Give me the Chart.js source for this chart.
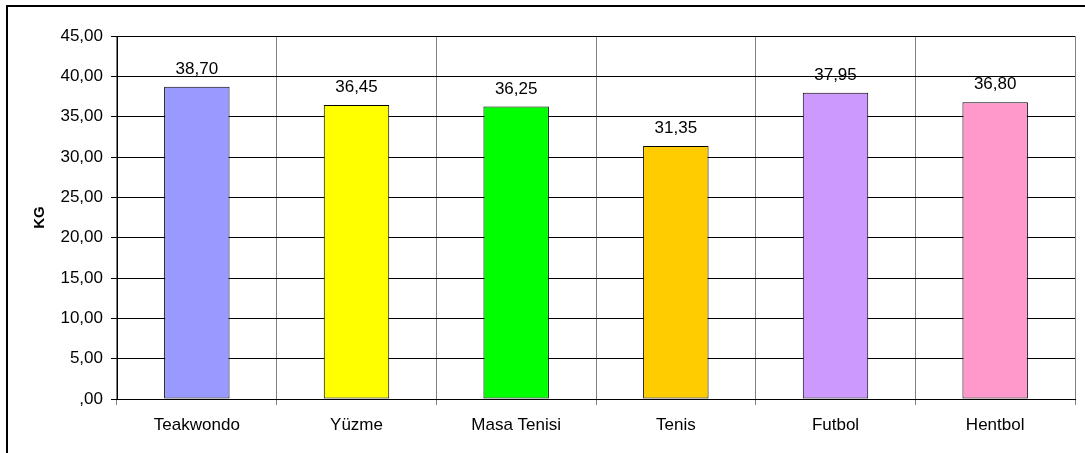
<!DOCTYPE html>
<html><head><meta charset="utf-8">
<script src="https://cdn.jsdelivr.net/npm/chart.js@4"></script>
<style>html,body{margin:0;padding:0;background:#fff}#wrap{width:1085px;height:453px}</style>
</head><body><div id="wrap"><canvas id="c" width="1085" height="453"></canvas></div>
<script>
const categories = ['Teakwondo','Yüzme','Masa Tenisi','Tenis','Futbol','Hentbol'];
const values = [38.70, 36.45, 36.25, 31.35, 37.95, 36.80];
const barColors = ['#9999FF','#FFFF00','#00FF00','#FFCC00','#CC99FF','#FF99CC'];
const yTitle = 'KG';
const yMax = 45, yStep = 5;

const fmt = v => { let s = v.toFixed(2).replace('.', ','); if (s.startsWith('0,')) s = s.slice(1); return s; };
const FONT = 'Liberation Sans, Arial, sans-serif';
const FS = 17;

const frame = { id:'frame', beforeDraw(ch){ const c=ch.ctx; c.save(); c.fillStyle='#fff'; c.fillRect(0,0,ch.width,ch.height); c.strokeStyle='#000'; c.lineWidth=2; c.strokeRect(7,6,1200,600); c.restore(); } };
const labels = { id:'labels', afterDatasetsDraw(ch){ const c=ch.ctx; const meta=ch.getDatasetMeta(0); c.save(); c.font=FS+'px '+FONT; c.fillStyle='#000'; c.textAlign='center'; c.textBaseline='alphabetic'; meta.data.forEach((b,i)=>{ c.fillText(fmt(values[i]), b.x, b.y-13); }); c.restore(); } };

new Chart(document.getElementById('c'), {
  type:'bar',
  data:{ labels:categories, datasets:[{ data:values, backgroundColor:barColors, borderColor:'#000', borderWidth:1, borderSkipped:false, barPercentage:0.82, categoryPercentage:0.5 }] },
  options:{
    responsive:false, animation:false, devicePixelRatio:1,
    layout:{ padding:{ left:31, top:36, right:10, bottom:0 } },
    plugins:{ legend:{display:false}, tooltip:{enabled:false} },
    scales:{
      x:{ offset:true,
          grid:{ offset:true, color:'#808080', lineWidth:1, tickLength:6, drawOnChartArea:true },
          border:{ color:'#000', width:1 },
          ticks:{ font:{ family:FONT, size:FS }, color:'#000', padding:10 },
          afterFit(s){ s.height = 54; } },
      y:{ min:0, max:yMax,
          ticks:{ stepSize:yStep, callback:v=>fmt(v), font:{ family:FONT, size:FS }, color:'#000', padding:8 },
          grid:{ color:'#000', lineWidth:1, tickLength:6 },
          border:{ color:'#000', width:1 },
          title:{ display:true, text:yTitle, font:{ family:FONT, size:15, weight:'bold' }, color:'#000', padding:{top:0,bottom:0} },
          afterFit(s){ s.width = 117-31; } }
    }
  },
  plugins:[frame, labels]
});
</script></body></html>
